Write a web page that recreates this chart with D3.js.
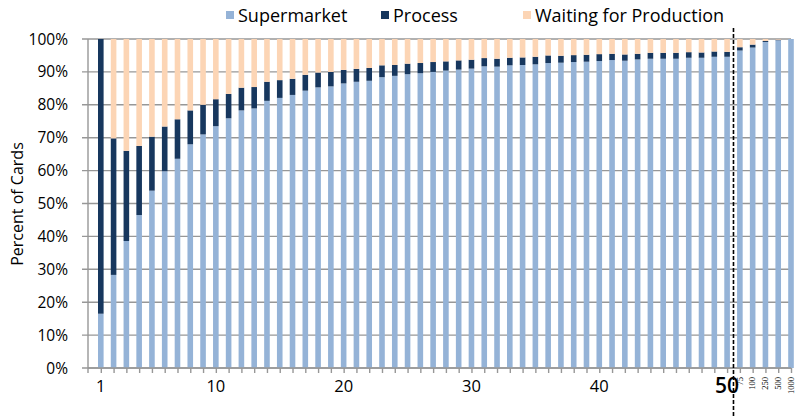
<!DOCTYPE html>
<html>
<head>
<meta charset="utf-8">
<script src="https://cdn.jsdelivr.net/npm/d3@7"></script>
<style>
  body { margin: 0; background: #fff; }
  text { font-family: "Open Sans", Lato, sans-serif; fill: #000; }
</style>
</head>
<body>
<svg id="chart" width="801" height="416"></svg>
<script>
// batch size categories
var categories = ["1","2","3","4","5","6","7","8","9","10","11","12","13","14","15","16","17","18","19","20",
  "21","22","23","24","25","26","27","28","29","30","31","32","33","34","35","36","37","38","39","40",
  "41","42","43","44","45","46","47","48","49","50","75","100","250","500","1000"];
var bigLabels = ["1","10","20","30","40","50"];
var smallLabels = ["75","100","250","500","1000"];

// percent of cards per state
var supermarket = [16.5,28.3,38.6,46.5,53.9,59.8,63.6,68.0,71.0,73.5,75.9,78.3,78.9,81.2,82.1,83.0,84.3,85.3,85.6,86.5,
  87.0,87.3,88.4,88.8,89.3,89.6,90.0,90.4,90.7,91.0,91.7,91.6,92.0,92.1,92.3,92.7,92.8,93.0,93.1,93.3,
  93.6,93.4,93.8,94.0,94.0,94.0,94.3,94.3,94.6,94.6,96.5,97.4,99.1,99.6,100];
var process = [83.5,41.5,27.4,21.0,16.4,13.6,12.0,10.3,9.0,8.2,7.4,6.9,6.5,5.8,5.4,4.9,4.8,4.5,4.4,4.1,
  3.9,3.9,3.6,3.3,3.2,3.1,3.0,2.8,2.8,2.7,2.5,2.4,2.3,2.3,2.3,2.3,2.1,2.1,2.1,2.1,
  1.9,1.9,1.7,1.8,1.8,1.8,1.7,1.6,1.6,1.5,1.0,0.9,0.3,0.2,0];
var waiting = [0,30.2,34.0,32.5,29.7,26.6,24.4,21.7,20.0,18.3,16.7,14.8,14.6,13.0,12.5,12.1,10.9,10.2,10.0,9.4,
  9.1,8.8,8.0,7.9,7.5,7.3,7.0,6.8,6.5,6.3,5.8,6.0,5.7,5.6,5.4,5.0,5.1,4.9,4.8,4.6,
  4.5,4.7,4.5,4.2,4.2,4.2,4.0,4.1,3.8,3.9,2.5,1.7,0.6,0.2,0];

var seriesNames = ["Supermarket", "Process", "Waiting for Production"];
var colors = ["#95b3d7", "#17375e", "#fcd5b5"];

var svg = d3.select("#chart");
var plotL = 88, plotR = 791, plotT = 39, plotB = 368;

var x = d3.scalePoint().domain(categories).range([100.8, plotR]);
var y = d3.scaleLinear().domain([0, 100]).range([plotB, plotT]);
var barW = 5.6;

// gridlines
svg.append("g").selectAll("line").data(y.ticks(10)).join("line")
  .attr("x1", 82).attr("x2", plotR)
  .attr("y1", function(d) { return y(d); }).attr("y2", function(d) { return y(d); })
  .attr("stroke", "#979797").attr("stroke-width", 1.4);

// y tick labels
svg.append("g").selectAll("text").data(y.ticks(10)).join("text")
  .attr("x", 68).attr("y", function(d) { return y(d) + 5.5; })
  .attr("text-anchor", "end").style("font-size", "15.5px")
  .text(function(d) { return d + "%"; });

// stacked bars
var rows = categories.map(function(c, i) {
  return { cat: c, Supermarket: supermarket[i], Process: process[i], "Waiting for Production": waiting[i] };
});
var stack = d3.stack().keys(seriesNames)(rows);

svg.append("g").selectAll("g").data(stack).join("g")
  .attr("fill", function(d, i) { return colors[i]; })
  .selectAll("rect").data(function(d) { return d; }).join("rect")
  .attr("x", function(d) { return x(d.data.cat) - barW / 2; })
  .attr("width", barW)
  .attr("y", function(d) { return y(d[1]); })
  .attr("height", function(d) { return y(d[0]) - y(d[1]); });

// x axis
var xAxis = svg.append("g").attr("transform", "translate(0," + plotB + ")")
  .call(d3.axisBottom(x).tickSize(5).tickFormat(""));
xAxis.select(".domain").attr("d", "M" + plotL + ",0H" + plotR).attr("stroke", "#979797").attr("stroke-width", 1.4);
xAxis.selectAll(".tick line").attr("stroke", "#979797").attr("stroke-width", 1.4);

// y axis line
svg.append("line").attr("x1", plotL).attr("x2", plotL).attr("y1", plotT).attr("y2", plotB + 5)
  .attr("stroke", "#979797").attr("stroke-width", 1.4);

// x labels
svg.append("g").selectAll("text").data(bigLabels).join("text")
  .attr("x", function(d) { return x(d); })
  .attr("y", function(d) { return d === "50" ? 393 : 392; })
  .attr("text-anchor", "middle")
  .style("font-size", function(d) { return d === "50" ? "21px" : "16.5px"; })
  .style("font-weight", function(d) { return d === "50" ? "600" : "400"; })
  .text(function(d) { return d; });

svg.append("g").selectAll("text").data(smallLabels).join("text")
  .attr("transform", function(d) { return "translate(" + (x(d) + 2.8) + ",377) rotate(-90)"; })
  .attr("text-anchor", "end")
  .style("font-family", "'Liberation Serif', serif").style("font-size", "8.5px")
  .text(function(d) { return d; });

// dashed divider between 50 and 75
var divX = (x("50") + x("75")) / 2;
svg.append("line").attr("x1", divX).attr("x2", divX).attr("y1", 28).attr("y2", 416)
  .attr("stroke", "#000").attr("stroke-width", 1.6).attr("stroke-dasharray", "4,2");

// y axis title
svg.append("text")
  .attr("transform", "translate(23,204) rotate(-90)")
  .attr("text-anchor", "middle").style("font-size", "16px")
  .text("Percent of Cards");

// legend
var legendX = [226, 381, 523];
var leg = svg.append("g").selectAll("g").data(seriesNames).join("g")
  .attr("transform", function(d, i) { return "translate(" + legendX[i] + ",0)"; });
leg.append("rect").attr("x", 0).attr("y", 11).attr("width", 8).attr("height", 8)
  .attr("fill", function(d, i) { return colors[i]; });
leg.append("text").attr("x", 12).attr("y", 21.5).style("font-size", "18px")
  .text(function(d) { return d; });
</script>
</body>
</html>
